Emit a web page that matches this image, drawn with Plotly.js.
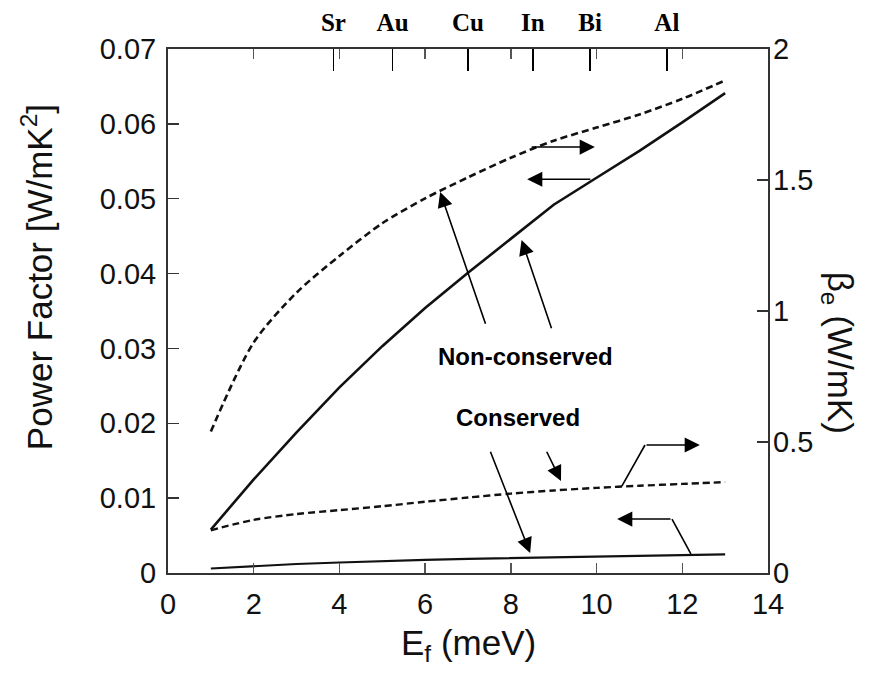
<!DOCTYPE html>
<html>
<head>
<meta charset="utf-8">
<script src="https://cdn.plot.ly/plotly-3.0.1.min.js"></script>
<style>html,body{margin:0;padding:0;background:#fff;}#chart{width:878px;height:676px;}</style>
</head>
<body>
<div id="chart"></div>
<script>
// ---- data ----
const Ef = [1, 2, 3, 4, 5, 6, 7, 8, 9, 10, 11, 12, 13];
const pfNonConserved   = [0.0058, 0.0125, 0.0188, 0.0248, 0.0303, 0.0354, 0.0401, 0.0447, 0.0492, 0.0528, 0.0564, 0.0602, 0.0641];
const betaNonConserved = [0.54, 0.88, 1.07, 1.21, 1.335, 1.43, 1.51, 1.585, 1.65, 1.7, 1.75, 1.81, 1.88];
const pfConserved      = [0.0006, 0.0009, 0.0012, 0.0014, 0.0016, 0.00175, 0.0019, 0.002, 0.0021, 0.0022, 0.0023, 0.0024, 0.0025];
const betaConserved    = [0.163, 0.203, 0.225, 0.24, 0.255, 0.272, 0.288, 0.303, 0.315, 0.325, 0.333, 0.34, 0.347];
const elements   = ['Sr', 'Au', 'Cu', 'In', 'Bi', 'Al'];
const elementEf  = [3.86, 5.24, 7.0, 8.51, 9.85, 11.64];

const ink = '#111';
const dashPat = '7px,4px';

const traces = [
  {x: Ef, y: pfNonConserved, xaxis: 'x', yaxis: 'y', mode: 'lines', line: {color: ink, width: 2.6}, hoverinfo: 'skip'},
  {x: Ef, y: betaNonConserved, xaxis: 'x', yaxis: 'y2', mode: 'lines', line: {color: ink, width: 2.6, dash: dashPat, shape: 'spline', smoothing: 0.8}, hoverinfo: 'skip'},
  {x: Ef, y: pfConserved, xaxis: 'x', yaxis: 'y', mode: 'lines', line: {color: ink, width: 2.2}, hoverinfo: 'skip'},
  {x: Ef, y: betaConserved, xaxis: 'x', yaxis: 'y2', mode: 'lines', line: {color: ink, width: 2.4, dash: dashPat, shape: 'spline', smoothing: 0.8}, hoverinfo: 'skip'},
  {x: elementEf, y: elementEf.map(() => null), xaxis: 'x2', yaxis: 'y', mode: 'markers', hoverinfo: 'skip'}
];

const tickFont = {family: 'Liberation Sans, Arial, sans-serif', size: 29, color: '#111'};
const titleFont = {family: 'Liberation Sans, Arial, sans-serif', size: 35, color: '#111'};
const noteFont = {family: 'Liberation Sans, Arial, sans-serif', size: 24, color: '#000', weight: 'bold'};

function arrow(tx, ty, axv, ayv) {
  return {x: tx, y: ty, ax: axv, ay: ayv, xref: 'x', yref: 'y', axref: 'x', ayref: 'y',
          text: '', showarrow: true, arrowhead: 2, arrowsize: 1.9, arrowwidth: 1.6, arrowcolor: '#000', standoff: 0, startstandoff: 0};
}

const layout = {
  width: 878, height: 676,
  margin: {l: 168, r: 110, t: 49, b: 103},
  paper_bgcolor: '#fff', plot_bgcolor: '#fff',
  showlegend: false,
  xaxis: {
    range: [0, 14], dtick: 2, tick0: 0, showgrid: false, zeroline: false,
    showline: true, linecolor: '#333', linewidth: 2, mirror: 'ticks',
    ticks: 'inside', ticklen: 10, tickwidth: 1.5, tickcolor: '#555',
    tickfont: tickFont, ticklabelstandoff: 4,
    anchor: 'y'
  },
  xaxis2: {
    range: [0, 14], overlaying: 'x', side: 'top', anchor: 'y',
    tickvals: elementEf, ticktext: elements,
    ticks: 'inside', ticklen: 22, tickwidth: 1.6, tickcolor: '#000',
    showline: false, showgrid: false, zeroline: false,
    ticklabelstandoff: 12,
    tickfont: {family: 'Liberation Serif, Times New Roman, serif', size: 25, color: '#000', weight: 'bold'}
  },
  yaxis: {
    range: [0, 0.07], dtick: 0.01, tick0: 0, showgrid: false, zeroline: false,
    showline: true, linecolor: '#333', linewidth: 2, mirror: true,
    ticks: 'inside', ticklen: 11, tickwidth: 1.5, tickcolor: '#333',
    tickfont: tickFont, ticklabelstandoff: 4
  },
  yaxis2: {
    range: [0, 2], dtick: 0.5, tick0: 0, overlaying: 'y', side: 'right', anchor: 'x',
    showgrid: false, zeroline: false, showline: false,
    ticks: 'inside', ticklen: 11, tickwidth: 1.5, tickcolor: '#333',
    tickfont: tickFont, ticklabelstandoff: 4
  },
  shapes: [
    {type: 'line', xref: 'x', yref: 'y', x0: 10.59, y0: 0.0116, x1: 11.13, y1: 0.0171, line: {color: '#000', width: 1.6}},
    {type: 'line', xref: 'x', yref: 'y', x0: 12.2, y0: 0.00254, x1: 11.76, y1: 0.00721, line: {color: '#000', width: 1.6}}
  ],
  annotations: [
    {xref: 'paper', yref: 'paper', x: -0.218, y: 0.565, text: 'Power Factor [W/mK<sup>2</sup>]', textangle: -90, showarrow: false, font: titleFont, xanchor: 'center', yanchor: 'middle'},
    {xref: 'paper', yref: 'paper', x: 1.117, y: 0.42, text: 'β<sub>e</sub> (W/mK)', textangle: 90, showarrow: false, font: titleFont, xanchor: 'center', yanchor: 'middle'},
    {xref: 'paper', yref: 'paper', x: 0.5, y: -0.138, text: 'E<sub>f</sub> (meV)', showarrow: false, font: titleFont, xanchor: 'center', yanchor: 'middle'},
    {xref: 'x', yref: 'y', x: 8.33, y: 0.0289, text: 'Non-conserved', showarrow: false, font: noteFont},
    {xref: 'x', yref: 'y', x: 8.17, y: 0.0208, text: 'Conserved', showarrow: false, font: noteFont},
    arrow(6.35, 0.0509, 7.42, 0.0331),
    arrow(8.25, 0.0445, 8.96, 0.0325),
    arrow(9.96, 0.0569, 8.45, 0.0569),
    arrow(8.38, 0.0526, 9.89, 0.0526),
    arrow(8.45, 0.00267, 7.51, 0.0164),
    arrow(9.17, 0.0123, 8.82, 0.0164),
    arrow(12.41, 0.0171, 11.13, 0.0171),
    arrow(10.48, 0.00721, 11.76, 0.00721)
  ]
};

Plotly.newPlot('chart', traces, layout, {staticPlot: true, displayModeBar: false});
</script>
</body>
</html>
